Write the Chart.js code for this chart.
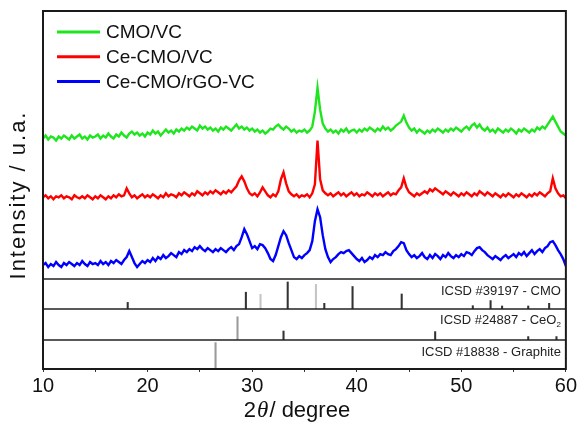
<!DOCTYPE html>
<html><head><meta charset="utf-8">
<script src="https://cdn.jsdelivr.net/npm/chart.js@4"></script>
<style>html,body{margin:0;padding:0;background:#fff;}canvas{display:block;}</style>
</head><body>
<canvas id="c" width="579" height="431"></canvas>
<script>
// ---------- DATA ----------
const seriesLabels = ['CMO/VC', 'Ce-CMO/VC', 'Ce-CMO/rGO-VC'];
// 2θ sampling grid (10° to 60°, every 0.25°)
const twoTheta = Array.from({length: 201}, (_, i) => 10 + i * 0.25);

const cmoVC = [
141,144,140,143,142,139,143,141,144,142,140,144,141,143,145,141,143,140,144,142,
143,145,141,144,142,146,143,141,145,143,147,144,142,146,148,145,147,144,146,143,
147,145,149,146,148,144,147,150,147,149,146,150,148,151,149,152,150,153,151,149,
154,151,153,150,152,149,151,148,152,150,153,151,149,152,155,151,153,150,152,149,
151,148,150,147,149,146,148,151,150,153,155,152,150,153,151,148,150,147,149,148,
150,147,149,153,168,192,170,156,151,148,150,147,149,146,150,148,151,147,149,150,
147,150,148,151,149,152,150,148,151,149,153,150,152,149,151,154,156,158,164,157,
152,149,151,147,150,148,146,149,147,150,148,151,149,147,150,148,151,149,152,150,
148,151,153,150,154,156,152,155,151,149,152,148,150,147,151,149,147,150,148,151,
149,146,150,148,151,149,147,150,148,152,150,153,151,155,159,163,158,153,148,146,
144];

const ceCmoVC = [
82,84,81,83,80,83,82,84,81,83,82,80,84,82,81,83,81,84,82,80,
83,81,84,82,80,83,81,84,82,85,83,84,91,86,82,84,81,83,85,82,
84,82,85,83,81,84,82,86,83,85,84,82,86,84,87,85,83,86,84,88,
86,84,87,85,88,86,89,87,85,88,86,89,87,90,93,99,103,98,91,86,
84,86,83,87,92,88,84,82,85,83,88,100,107,96,88,85,83,85,82,84,
83,85,82,86,95,139,100,89,86,84,86,83,85,87,84,86,83,85,87,84,
86,83,85,84,87,85,83,86,84,86,83,85,87,84,86,85,89,92,101,92,
87,85,83,86,84,86,88,86,90,88,91,89,87,85,88,86,84,87,85,83,
86,84,87,85,83,86,84,88,86,84,87,85,83,86,84,82,85,83,86,84,
82,85,83,86,84,82,85,83,86,84,87,85,83,86,88,101,91,86,83,84,
81];

const ceCmoRgoVC = [
14,16,12,15,13,17,14,12,16,14,17,15,13,16,14,18,15,13,17,15,
16,14,18,15,17,14,18,16,19,17,15,19,22,28,22,16,12,15,18,16,
19,17,21,18,22,20,24,21,23,26,24,22,27,25,29,27,30,28,32,30,
33,30,28,31,29,27,30,28,31,29,27,30,32,29,33,35,42,50,45,38,
31,33,30,35,34,31,26,20,18,24,33,42,48,44,36,29,22,20,23,21,
24,26,29,38,58,70,62,44,30,22,17,20,22,25,27,26,28,29,26,23,
20,18,21,17,19,22,20,24,22,25,24,27,25,24,28,30,33,37,36,29,
25,22,24,21,23,26,22,20,24,21,25,23,20,24,22,26,23,21,24,22,
25,23,27,26,24,28,31,32,29,27,24,22,20,23,21,19,22,24,21,23,
25,22,26,24,27,23,26,29,25,28,30,27,31,33,37,38,34,29,25,20,
13];

// reference patterns (stick positions in 2θ, relative intensity %)
const cmoPos = [18.1, 29.4, 30.8, 33.4, 36.1, 36.9, 39.6, 44.3, 51.1, 52.8, 53.9, 56.4, 58.4];
const cmoInt = [22, 56, 49, 90, 82, 19, 75, 50, 11, 28, 10, 10, 19];
const ceo2Pos = [28.6, 33.0, 47.5, 56.4, 59.1];
const ceo2Int = [75, 29, 27, 11, 11];
const graphitePos = [26.5];
const graphiteInt = [91];

const panelLabels = ['ICSD #39197 - CMO', 'ICSD #24887 - CeO', 'ICSD #18838 - Graphite'];
const xTickLabels = [10, 20, 30, 40, 50, 60];

// ---------- STYLE ----------
const FONT = "'Liberation Sans', Arial, sans-serif";
const seriesColors = ['#1ee61e', '#ff0000', '#0000ff'];
const dark = '#333333', light = '#c4c4c4', mid = '#9a9a9a';
const cmoColors = [dark, dark, light, dark, light, dark, dark, dark, dark, dark, dark, dark, dark];
const ceo2Colors = [mid, dark, dark, dark, dark];
const graphiteColors = [mid];

const pts = (xs, ys) => xs.map((x, i) => ({x, y: ys[i]}));

const lineDs = [cmoVC, ceCmoVC, ceCmoRgoVC].map((arr, i) => ({
  type: 'line', label: seriesLabels[i], data: pts(twoTheta, arr), yAxisID: 'y',
  borderColor: seriesColors[i], borderWidth: 2.4, pointRadius: 0, tension: 0, fill: false
}));
const stickDs = (xs, ys, cols, axis) => ({
  type: 'bar', label: axis, data: pts(xs, ys), yAxisID: axis,
  backgroundColor: cols, borderWidth: 0, barThickness: 1.4, grouped: false
});

const hiddenY = (weight, stackWeight, max) => ({
  type: 'linear', position: 'left', stack: 'panels', stackWeight, weight,
  min: 0, max, display: true,
  grid: {display: false}, border: {display: false}, ticks: {display: false},
  afterFit: s => { s.width = 0; }
});

const decor = {
  id: 'decor',
  afterDraw(chart) {
    const {ctx, chartArea: a, scales} = chart;
    ctx.save();
    // panel separators
    ctx.strokeStyle = '#222';
    ctx.lineWidth = 1.6;
    ['yCmo', 'yCeo2', 'yGr'].forEach(id => {
      const t = Math.round(scales[id].top);
      ctx.beginPath(); ctx.moveTo(a.left, t); ctx.lineTo(a.right, t); ctx.stroke();
    });
    ctx.lineWidth = 2;
    ctx.strokeStyle = '#1a1a1a';
    ctx.strokeRect(a.left, a.top, a.right - a.left, a.bottom - a.top);

    // panel labels
    ctx.fillStyle = '#222';
    ctx.textBaseline = 'middle';
    ctx.textAlign = 'right';
    ctx.font = '13px ' + FONT;
    const rx = a.right - 5;
    ctx.fillText(panelLabels[0], rx, scales.yCmo.top + 12);
    ctx.font = '8px ' + FONT;
    const subW = ctx.measureText('2').width;
    ctx.fillText('2', rx, scales.yCeo2.top + 16);
    ctx.font = '13px ' + FONT;
    ctx.fillText(panelLabels[1], rx - subW, scales.yCeo2.top + 11);
    ctx.fillText(panelLabels[2], rx, scales.yGr.top + 12);

    // legend
    ctx.textAlign = 'left';
    ctx.font = '19px ' + FONT;
    chart.data.datasets.filter(d => d.type === 'line').forEach((d, i) => {
      const y = 32 + i * 24.7;
      ctx.strokeStyle = d.borderColor; ctx.lineWidth = 3;
      ctx.beginPath(); ctx.moveTo(57, y); ctx.lineTo(100, y); ctx.stroke();
      ctx.fillStyle = '#111';
      ctx.fillText(d.label, 106, y + 1);
    });

    // y title
    ctx.save();
    ctx.translate(19, 195);
    ctx.rotate(-Math.PI / 2);
    ctx.textAlign = 'center';
    ctx.font = '22px ' + FONT;
    try { ctx.letterSpacing = '2px'; } catch (e) {}
    ctx.fillText('Intensity / u.a.', 0, 0);
    ctx.restore();

    // x title: 2θ/ degree
    ctx.textBaseline = 'alphabetic';
    const p1 = '2', p2 = 'θ', p3 = '/ degree';
    const f1 = '22px ' + FONT, f2 = 'italic 23px "Liberation Serif", serif';
    ctx.font = f1; const w1 = ctx.measureText(p1).width, w3 = ctx.measureText(p3).width;
    ctx.font = f2; const w2 = ctx.measureText(p2).width;
    let x = 297 - (w1 + w2 + w3 + 2) / 2;
    const by = 417;
    ctx.font = f1; ctx.fillText(p1, x, by); x += w1 + 1;
    ctx.font = f2; ctx.fillText(p2, x, by); x += w2 + 1;
    ctx.font = f1; ctx.fillText(p3, x, by);
    ctx.restore();
  }
};

new Chart(document.getElementById('c'), {
  type: 'line',
  data: {
    datasets: [
      ...lineDs,
      stickDs(cmoPos, cmoInt, cmoColors, 'yCmo'),
      stickDs(ceo2Pos, ceo2Int, ceo2Colors, 'yCeo2'),
      stickDs(graphitePos, graphiteInt, graphiteColors, 'yGr')
    ]
  },
  options: {
    responsive: false,
    animation: false,
    layout: {padding: {left: 43, right: 11, top: 11, bottom: 0}},
    plugins: {legend: {display: false}, tooltip: {enabled: false}},
    scales: {
      x: {
        type: 'linear', min: 10, max: 60, offset: false,
        grid: {display: true, offset: false, drawOnChartArea: false, drawTicks: true, tickLength: 3, color: '#333', lineWidth: 1},
        border: {display: false},
        ticks: {
          stepSize: 5, autoSkip: false, maxRotation: 0, padding: 2, color: '#111',
          font: {family: FONT, size: 20},
          callback: v => xTickLabels.includes(v) ? String(v) : ''
        },
        afterFit: s => { s.height = 62; }
      },
      yGr: hiddenY(1, 29, 100),
      yCeo2: hiddenY(2, 31, 100),
      yCmo: hiddenY(3, 30, 100),
      y: hiddenY(4, 268, 269)
    }
  },
  plugins: [decor]
});
</script></body></html>
